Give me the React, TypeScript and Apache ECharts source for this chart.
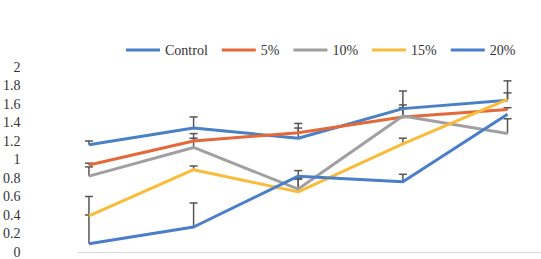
import React, { useEffect, useRef } from "react";
import * as echarts from "echarts";

// Sampling points (positions along the x axis, no labels shown)
const steps = [0, 1, 2, 3, 4];

const seriesNames = ["Control", "5%", "10%", "15%", "20%"];
const seriesColors = ["#4A80C6", "#E4683A", "#A0A0A0", "#F8BC3A", "#4A7EC8"];

const controlValues = [1.16, 1.34, 1.23, 1.55, 1.64];
const fivePctValues = [0.94, 1.2, 1.29, 1.46, 1.54];
const tenPctValues = [0.82, 1.13, 0.68, 1.47, 1.28];
const fifteenPctValues = [0.39, 0.89, 0.65, 1.17, 1.65];
const twentyPctValues = [0.09, 0.27, 0.82, 0.76, 1.49];

// Upper error amounts
const controlErr = [0.04, 0.12, 0.16, 0.19, 0.21];
const fivePctErr = [0.02, 0.08, 0.05, 0.1, 0.02];
const tenPctErr = [0.1, 0.1, 0.11, 0.12, 0.16];
const fifteenPctErr = [0.21, 0.04, 0.14, 0.06, 0.07];
const twentyPctErr = [0.31, 0.26, 0.06, 0.08, 0.0];

const yTicks = [0, 0.2, 0.4, 0.6, 0.8, 1, 1.2, 1.4, 1.6, 1.8, 2];

const allValues = [controlValues, fivePctValues, tenPctValues, fifteenPctValues, twentyPctValues];
const allErrors = [controlErr, fivePctErr, tenPctErr, fifteenPctErr, twentyPctErr];

const serifFont = "Times New Roman";

export default function App() {
  const ref = useRef<HTMLDivElement>(null);

  useEffect(() => {
    if (!ref.current) return;
    const chart = echarts.init(ref.current, undefined, { renderer: "svg" });

    const lineSeries = allValues.map((vals, i) => ({
      name: seriesNames[i],
      type: "line",
      data: steps.map((s, j) => [s, vals[j]]),
      symbol: "none",
      lineStyle: { width: 3, color: seriesColors[i] },
      itemStyle: { color: seriesColors[i] },
      z: 3,
    }));

    const errorSeries = allValues.map((vals, i) => ({
      name: seriesNames[i] + " err",
      type: "custom",
      data: steps.map((s, j) => [s, vals[j], vals[j] + allErrors[i][j]]),
      z: 2,
      silent: true,
      renderItem: (params: any, api: any) => {
        const x = api.value(0);
        const lo = api.coord([x, api.value(1)]);
        const hi = api.coord([x, api.value(2)]);
        if (Math.abs(lo[1] - hi[1]) < 1) return { type: "group", children: [] };
        const capHalf = 4;
        const style = { stroke: "#555555", lineWidth: 1.5 };
        return {
          type: "group",
          children: [
            { type: "line", shape: { x1: lo[0], y1: lo[1], x2: hi[0], y2: hi[1] }, style },
            { type: "line", shape: { x1: hi[0] - capHalf, y1: hi[1], x2: hi[0] + capHalf, y2: hi[1] }, style },
          ],
        };
      },
    }));

    chart.setOption({
      animation: false,
      legend: {
        data: seriesNames.map((n, i) => ({ name: n, itemStyle: { color: seriesColors[i] } })),
        left: 121,
        top: 38,
        icon: "rect",
        itemWidth: 34,
        itemHeight: 3,
        itemGap: 14,
        itemTextGap: 1,
        textStyle: { fontFamily: serifFont, fontSize: 14, color: "#333333" },
      },
      grid: { left: 72, right: 0, top: 67, bottom: 6, containLabel: false },
      xAxis: {
        type: "value",
        min: -0.1,
        max: 4.32,
        axisLine: { show: true, lineStyle: { color: "#D9D9D9", width: 1 } },
        axisTick: { show: false },
        axisLabel: { show: false },
        splitLine: { show: false },
      },
      yAxis: {
        type: "value",
        min: yTicks[0],
        max: yTicks[yTicks.length - 1],
        interval: 0.2,
        axisLine: { show: false },
        axisTick: { show: false },
        splitLine: { show: false },
        axisLabel: {
          margin: 58,
          fontFamily: serifFont,
          fontSize: 14,
          color: "#333333",
          formatter: (v: number) => String(Math.round(v * 10) / 10),
        },
      },
      series: [...errorSeries, ...lineSeries],
    });

    return () => chart.dispose();
  }, []);

  return <div ref={ref} style={{ width: 541, height: 259, position: "absolute", left: 0, top: 0 }} />;
}
